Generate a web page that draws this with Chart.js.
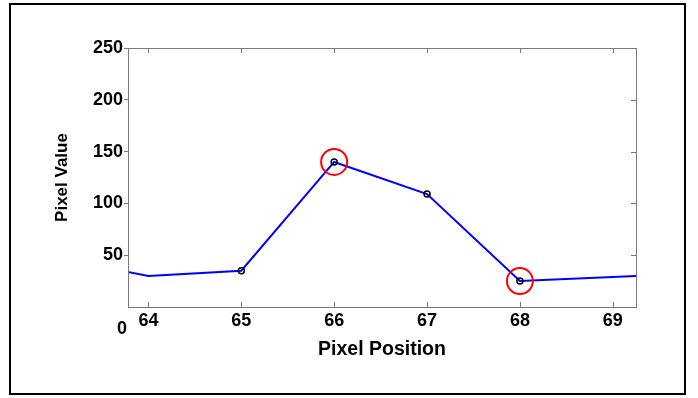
<!DOCTYPE html>
<html lang="en">
<head>
  <meta charset="UTF-8" />
  <title>Pixel Value vs Pixel Position</title>
  <script src="https://cdn.jsdelivr.net/npm/chart.js"></script>
  <style>
    body { margin: 0; background: #fff; }
    .wrap { position: relative; width: 698px; height: 398px; }
    .frame {
      position: absolute; left: 9px; top: 3px; width: 673px; height: 388px;
      border: 2px solid #000; pointer-events: none;
    }
    canvas { position: absolute; left: 0; top: 0; }
  </style>
</head>
<body>
  <div class="wrap">
    <canvas id="chart" width="698" height="398"></canvas>
    <div class="frame"></div>
  </div>

  <script>
    // line data (pixel position / pixel value)
    const positions = [63, 64, 65, 66, 67, 68, 69, 70];
    const values = [47, 30, 35, 140, 109, 25, 29, 33];
    const markerSizes = [0, 0, 3, 3, 3, 3, 0, 0];
    // highlighted points (red circles)
    const hiPositions = [66, 68];
    const hiValues = [140, 25];
    // axes
    const xTicks = [64, 65, 66, 67, 68, 69];
    const xMin = 63.78, xMax = 69.25;
    const yTicks = [0, 50, 100, 150, 200, 250];

    const axisGray = '#7a7a7a';
    const fam = "'Liberation Sans', Arial, sans-serif";
    const font = { family: fam, size: 18, weight: 'bold' };

    // box round the plot, inward ticks, and the shifted "0" label
    const boxPlugin = {
      id: 'box',
      afterDraw(chart) {
        const { ctx, chartArea: a, scales } = chart;
        const x = scales.x, y = scales.y;
        ctx.save();
        ctx.strokeStyle = axisGray;
        ctx.lineWidth = 1;
        ctx.strokeRect(a.left + 0.5, a.top + 0.5, a.right - a.left, a.bottom - a.top);
        ctx.beginPath();
        xTicks.forEach(v => {
          const px = Math.round(x.getPixelForValue(v)) + 0.5;
          ctx.moveTo(px, a.bottom); ctx.lineTo(px, a.bottom - 5);
          ctx.moveTo(px, a.top); ctx.lineTo(px, a.top + 5);
        });
        yTicks.slice(1).forEach(v => {
          const py = Math.round(y.getPixelForValue(v)) + 0.5;
          ctx.moveTo(a.right, py); ctx.lineTo(a.right - 5, py);
        });
        ctx.stroke();
        ctx.fillStyle = '#000';
        ctx.font = `bold ${font.size}px ${fam}`;
        ctx.textAlign = 'right';
        ctx.textBaseline = 'middle';
        ctx.fillText('0', a.left - 1, y.getPixelForValue(0) + 22);
        ctx.restore();
      }
    };

    Chart.defaults.font = font;
    Chart.defaults.color = '#000';

    new Chart(document.getElementById('chart'), {
      type: 'line',
      data: {
        datasets: [
          {
            data: hiPositions.map((p, i) => ({ x: p, y: hiValues[i] })),
            showLine: false,
            pointRadius: 13,
            pointBorderWidth: 2,
            pointBorderColor: '#ff0000',
            pointBackgroundColor: 'rgba(0,0,0,0)'
          },
          {
            data: positions.map((p, i) => ({ x: p, y: values[i] })),
            borderColor: '#0000ff',
            borderWidth: 2,
            tension: 0,
            pointRadius: markerSizes,
            pointBorderWidth: 1.5,
            pointBorderColor: '#000',
            pointBackgroundColor: 'rgba(0,0,0,0)'
          }
        ]
      },
      options: {
        responsive: false,
        animation: false,
        layout: { padding: { top: 48, right: 62, left: 0, bottom: 0 } },
        plugins: { legend: { display: false }, tooltip: { enabled: false } },
        scales: {
          x: {
            type: 'linear',
            min: xMin,
            max: xMax,
            afterBuildTicks: s => { s.ticks = xTicks.map(v => ({ value: v })); },
            afterFit: s => { s.height = 91; },
            grid: { display: false },
            border: { display: false },
            ticks: { padding: -5, maxRotation: 0, autoSkip: false },
            title: {
              display: true, text: 'Pixel Position',
              font: { family: fam, size: 19.5, weight: 'bold' },
              padding: { top: 0, bottom: 37 }
            }
          },
          y: {
            min: 0,
            max: 250,
            afterBuildTicks: s => { s.ticks = yTicks.map(v => ({ value: v })); },
            afterFit: s => { s.width = 128; },
            grid: {
              drawOnChartArea: false,
              tickLength: 4,
              color: c => (c.tick && c.tick.value === 0 ? 'rgba(0,0,0,0)' : axisGray)
            },
            border: { display: false },
            ticks: { padding: 1, callback: v => (v === 0 ? '' : v) },
            title: {
              display: true, text: 'Pixel Value',
              font: { family: fam, size: 17, weight: 'bold' },
              padding: { top: 52, bottom: 0 }
            }
          }
        }
      },
      plugins: [boxPlugin]
    });
  </script>
</body>
</html>
